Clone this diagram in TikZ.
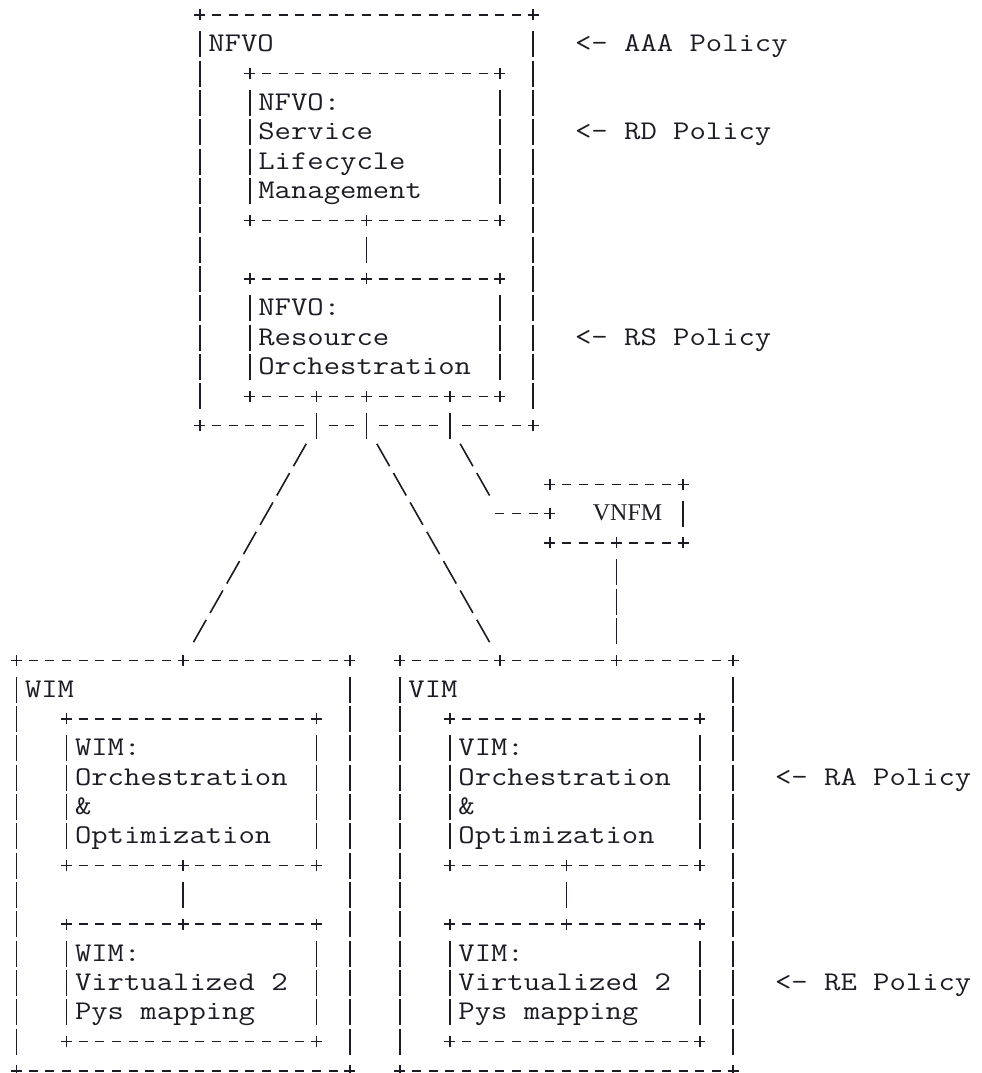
\documentclass[tikz,border=0pt]{standalone}
\usepackage{fontspec}
\newfontfamily\asciifont{Latin Modern Mono}[FakeStretch=1.176]
\newfontfamily\vnfmfont{Liberation Serif}
\usetikzlibrary{fit}
\definecolor{ink}{HTML}{1C1C24}

\tikzset{
  glyph/.style={draw=ink, line width=1.6pt},
  hdash/.style={glyph, dash pattern=on 9pt off 7.667pt, shorten <=12.17pt, shorten >=12.17pt},
  vbar/.style={glyph, dash pattern=on 26pt off 3.33pt, shorten <=16.33pt, shorten >=16.33pt},
  stub/.style={glyph, shorten <=16.33pt, shorten >=-13pt},
  slash/.style={glyph, dash pattern=on 25.8pt off 7.94pt, shorten <=20.83pt, shorten >=20.83pt},
  abox/.style={inner sep=0pt, outer sep=0pt},
  txt/.style={anchor=base west, xshift=-8.333pt, yshift=-7.5pt, inner sep=0pt, text=ink,
    font=\asciifont\fontsize{27pt}{29.33pt}\selectfont},
}

\newcommand\jn[1]{\draw[glyph] (#1) ++(-5.5pt,0) -- ++(11pt,0) (#1) ++(0,-5.5pt) -- ++(0,11pt);}
\newcommand\boxtop[1]{\draw[hdash] (#1.north west) -- (#1.north east);}
\newcommand\boxbottom[1]{\draw[hdash] (#1.south west) -- (#1.south east);}
\newcommand\boxsides[1]{\draw[vbar] (#1.north west) -- (#1.south west); \draw[vbar] (#1.north east) -- (#1.south east);}
\newcommand\boxcorners[1]{\jn{#1.north west}\jn{#1.north east}\jn{#1.south west}\jn{#1.south east}}
\newcommand\asciibox[1]{\boxtop{#1}\boxbottom{#1}\boxsides{#1}\boxcorners{#1}}

\begin{document}
\begin{tikzpicture}[x=16.667pt, y=-29.33pt]
    \path[use as bounding box, fill=white] (-0.99,-0.5114) rectangle (57.87,36.07);

    \node[abox, fit={(11,0) (31,14)}] (nfvo) {};
    \node[abox, fit={(14,2) (29,7)}] (svc) {};
    \node[abox, fit={(14,9) (29,13)}] (res) {};
    \node[abox, fit={(32,16) (40,18)}] (vnfm) {};
    \node[abox, fit={(0,22) (20,36)}] (wim) {};
    \node[abox, fit={(3,24) (18,29)}] (wimorch) {};
    \node[abox, fit={(3,31) (18,35)}] (wimmap) {};
    \node[abox, fit={(23,22) (43,36)}] (vim) {};
    \node[abox, fit={(26,24) (41,29)}] (vimorch) {};
    \node[abox, fit={(26,31) (41,35)}] (vimmap) {};

    \node[txt] (nfvo-t) at (12,1) {NFVO};
    \foreach \t [count=\i from 3] in {NFVO:,Service,Lifecycle,Management}
        \node[txt] (svc-\i) at (15,\i) {\t};
    \foreach \t [count=\i from 10] in {NFVO:,Resource,Orchestration}
        \node[txt] (res-\i) at (15,\i) {\t};
    \node[txt] (wim-t) at (1,23) {WIM};
    \foreach \t [count=\i from 25] in {WIM:,Orchestration,\&,Optimization}
        \node[txt] (wimorch-\i) at (4,\i) {\t};
    \foreach \t [count=\i from 32] in {WIM:,Virtualized 2,Pys mapping}
        \node[txt] (wimmap-\i) at (4,\i) {\t};
    \node[txt] (vim-t) at (24,23) {VIM};
    \foreach \t [count=\i from 25] in {VIM:,Orchestration,\&,Optimization}
        \node[txt] (vimorch-\i) at (27,\i) {\t};
    \foreach \t [count=\i from 32] in {VIM:,Virtualized 2,Pys mapping}
        \node[txt] (vimmap-\i) at (27,\i) {\t};
    \node[anchor=base, yshift=-6.5pt, inner sep=0pt, text=ink,
        font=\vnfmfont\fontsize{24pt}{24pt}\selectfont] (vnfm-t) at (36.66,17) {VNFM};

    \node[txt] (aaa) at (34,1) {<- AAA Policy};
    \node[txt] (rd) at (34,4) {<- RD Policy};
    \node[txt] (rs) at (34,11) {<- RS Policy};
    \node[txt] (ra) at (46,26) {<- RA Policy};
    \node[txt] (re) at (46,33) {<- RE Policy};

    \coordinate (svc-s) at (21,7);
    \coordinate (res-n) at (21,9);
    \coordinate (res-s1) at (18,13);
    \coordinate (res-s2) at (21,13);
    \coordinate (res-s3) at (26,13);
    \coordinate (nfvo-s1) at (18,14);
    \coordinate (nfvo-s2) at (21,14);
    \coordinate (nfvo-s3) at (26,14);
    \coordinate (bend) at (29,17);
    \coordinate (vnfm-w) at (32,17);
    \coordinate (vnfm-s) at (36,18);
    \coordinate (wim-n) at (10,22);
    \coordinate (vim-n1) at (29,22);
    \coordinate (vim-n2) at (36,22);
    \coordinate (wimorch-s) at (10,29);
    \coordinate (wimmap-n) at (10,31);
    \coordinate (vimorch-s) at (33,29);
    \coordinate (vimmap-n) at (33,31);

    \asciibox{svc}
    \asciibox{res}
    \asciibox{wim}
    \asciibox{wimorch}
    \asciibox{wimmap}
    \asciibox{vim}
    \asciibox{vimorch}
    \asciibox{vimmap}

    \boxtop{nfvo}
    \boxsides{nfvo}
    \boxcorners{nfvo}
    \draw[hdash] (nfvo.south west) -- (nfvo-s1);
    \draw[hdash] (nfvo-s1) -- (nfvo-s2);
    \draw[hdash] (nfvo-s2) -- (nfvo-s3);
    \draw[hdash] (nfvo-s3) -- (nfvo.south east);

    \boxtop{vnfm}
    \boxbottom{vnfm}
    \boxcorners{vnfm}
    \draw[vbar] (vnfm.north east) -- (vnfm.south east);

    \draw[vbar] (svc-s) -- (res-n);
    \draw[stub] (res-s1) -- (nfvo-s1);
    \draw[stub] (res-s2) -- (nfvo-s2);
    \draw[stub] (res-s3) -- (nfvo-s3);
    \draw[slash] (nfvo-s1) -- (wim-n);
    \draw[slash] (nfvo-s2) -- (vim-n1);
    \draw[slash] (nfvo-s3) -- (bend);
    \draw[hdash, shorten <=-4.5pt] (bend) -- (vnfm-w);
    \draw[vbar] (vnfm-s) -- (vim-n2);
    \draw[vbar] (wimorch-s) -- (wimmap-n);
    \draw[vbar] (vimorch-s) -- (vimmap-n);

    \foreach \p in {svc-s,res-n,res-s1,res-s2,res-s3,vnfm-w,vnfm-s,wim-n,vim-n1,vim-n2,wimorch-s,wimmap-n,vimorch-s,vimmap-n}
        {\jn{\p}}
\end{tikzpicture}
\end{document}
